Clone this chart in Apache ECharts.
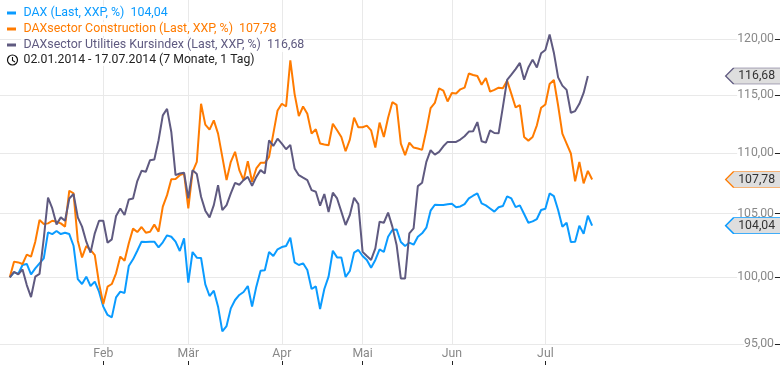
<!DOCTYPE html>
<html><head><meta charset="utf-8">
<style>html,body{margin:0;padding:0;background:#fff}#c{width:780px;height:365px}</style>
<script src="https://cdn.jsdelivr.net/npm/echarts@6/dist/echarts.min.js"></script>
</head><body><div id="c"></div>
<script>
const monthIdx=[22,42,64,83,104,126];
const monthNames=['Feb','Mär','Apr','Mai','Jun','Jul'];
const yTicks=[95,100,105,110,115,120];
const names=['DAX (Last, XXP, %)','DAXsector Construction (Last, XXP, %)','DAXsector Utilities Kursindex (Last, XXP, %)'];
const lastLabels=['104,04','107,78','116,68'];
const dateRange='02.01.2014 - 17.07.2014 (7 Monate, 1 Tag)';
const colors=['#0a9bff','#ff7b00','#5f5a80'];
const dax=[100,100.38,100.28,100.95,101.03,100.23,100.69,101.08,101.47,103.51,103.37,103.61,103.37,103.48,103.37,102.45,99.87,99.49,100.05,99.34,99.67,98.91,97.78,97.16,96.98,98.48,98.91,98.81,100.87,101.39,102.06,102.77,102.74,102.77,102.77,102.32,102.72,103.27,103.16,102.77,102.04,103.03,99.59,101.96,101.52,101.49,99.46,98.58,98.98,97.78,95.95,96.34,97.65,98.28,98.66,98.88,99.34,97.78,99.29,100.51,100.54,101.96,101.65,102.17,102.35,102.43,103.08,101.15,100.95,101.08,100.56,99.11,99.31,97.6,99.11,100.05,102.06,101.54,101.54,100.03,100.49,101.91,102.12,101.65,101.34,100.74,101.34,102.17,101.96,103.16,103.69,103.74,102.74,102.43,102.69,102.53,103.16,103.43,103.88,105.24,105.72,105.69,105.69,105.75,105.8,105.51,105.58,105.77,106.23,106.45,106.64,105.83,105.67,105.42,105.16,105.51,105.61,106.4,106.23,105.53,105.67,104.97,104.27,104.38,104.57,105.29,105.4,106.64,106.42,105.29,103.96,104.27,102.74,102.77,104.04,103.4,104.83,104.04];
const construction=[100,101.21,101.15,101.03,101.75,101.6,102.77,104.49,104.17,104.22,104.43,104.35,104.22,103.96,106.86,106.64,102.85,101.54,102.43,102.12,101.72,99.54,97.98,99.29,99.49,100.31,101.6,101.28,102.64,103.8,103.53,103.93,103.48,103.56,104.12,103.56,105.56,106.5,107.8,107.82,108.14,108.28,105.42,108.42,109.25,114.22,112.41,111.98,112.78,111.64,109.67,107.73,109.25,110.09,108.56,107.73,109.31,107.6,108.7,109.17,109.17,109.67,111.64,113.64,114.22,113.98,118.09,115.09,113.15,113.98,113.35,111.64,112.01,110.79,110.71,110.65,112.49,111.92,111.35,110.14,111.13,113.01,112.18,112.18,112.32,111.92,110.45,112.58,111.35,113.01,114.36,114.13,110.79,109.81,110.87,110.45,110.37,110.26,111.92,113.84,114.3,115.58,115.38,114.42,115.17,115.12,115.49,115.64,116.9,116.76,116.67,115.9,116.49,115.29,115.44,115.64,115.58,116.26,115.09,113.9,114.1,111.35,111.04,111.35,112.35,113.87,114.16,115.96,116.32,114.07,111.64,110.79,109.95,107.63,109.25,107.46,108.5,107.78];
const utilities=[100,100.41,100.23,100.61,99.41,98.5,100.05,100.26,103.03,106.29,105.42,104.14,104.7,104.43,106.23,106.59,104.7,103.96,102.77,101.91,103.43,104.43,104.43,102.69,102.95,104.81,105.42,104.89,106.15,106.23,107.65,108.5,108.42,109.39,109.45,111.07,113.21,113.78,111.78,108.14,108.28,108.34,106.23,108.56,108.23,106.37,105.24,104.7,105.69,107.32,105.29,105.69,106.64,107.51,107.35,107.73,108,107.27,108,108.56,108.28,111.07,110.59,111.21,110.79,110.31,110.68,108.7,108.14,107.93,107.73,106.91,106.78,105.64,106.59,105.13,106.7,106.23,105.16,104.09,104.89,106.29,105.77,101.97,101.65,101.34,102.25,104.35,104.27,105.08,103.96,102.51,99.92,99.92,103.43,103.82,107.24,107.51,109.25,110.23,109.86,110.09,110.56,110.93,110.93,110.93,111.13,111.41,111.81,111.84,112.63,110.99,110.87,111.92,111.69,111.66,113.93,116.32,116.79,117.29,117.85,116.34,117.44,118.15,117.44,118.72,119.02,120.44,118.78,116.55,115.82,115.44,113.44,113.58,114.22,115.17,116.68];
const allSeries=[dax,construction,utilities];
const tagPath='path://M0 8L8 0L56 0L56 16L8 16Z';
const chart=echarts.init(document.getElementById('c'),null,{renderer:'canvas'});
chart.setOption({
  animation:false,
  textStyle:{fontFamily:'Roboto'},
  grid:{left:0,right:0,top:0,bottom:20.7,containLabel:false},
  legend:{show:true,orient:'vertical',left:7,top:6,padding:0,itemGap:2,itemWidth:9,itemHeight:3,icon:'rect',itemStyle:{borderRadius:1},selectedMode:false,z:20,
    data:names.map((n,i)=>({name:n+'  '+lastLabels[i],
      textStyle:{color:colors[i],fontSize:12.4,fontFamily:'Roboto',lineHeight:14,height:14,padding:[0,0,0,2.5],backgroundColor:'rgba(255,255,255,0.8)'}}))},
  xAxis:{type:'value',min:-2.3,max:181.2,offset:20.7,position:'bottom',
    axisLine:{show:false,onZero:false},
    axisTick:{show:true,inside:true,length:4,lineStyle:{color:'#222',width:1},customValues:monthIdx},
    axisLabel:{inside:true,margin:5,fontSize:12.25,color:'#888',customValues:monthIdx,
      formatter:v=>monthNames[monthIdx.indexOf(v)]||'',hideOverlap:false},
    splitLine:{show:true,lineStyle:{color:'#e9e9e9',width:1}}},
  yAxis:{type:'log',logBase:10,min:95,max:123.67,position:'right',
    axisLine:{show:false,onZero:false},
    axisTick:{show:true,inside:true,length:5,lineStyle:{color:'#222',width:1},customValues:yTicks},
    axisLabel:{inside:true,margin:6,fontSize:12.25,color:'#888',backgroundColor:'#fff',customValues:yTicks,
      formatter:v=>Number(v).toFixed(2).replace('.',',')},
    splitLine:{show:true,lineStyle:{color:'#e9e9e9',width:1}}},
  graphic:[
    {type:'circle',shape:{cx:12.5,cy:60,r:5},style:{fill:'none',stroke:'#111',lineWidth:1.2},z:50},
    {type:'polyline',shape:{points:[[12.5,57],[12.5,60.5],[15,62]]},style:{fill:'none',stroke:'#111',lineWidth:1.1},z:50},
    {type:'text',left:23.5,top:54,style:{text:dateRange,fontSize:12.25,fontFamily:'Roboto',fill:'#222',backgroundColor:'rgba(255,255,255,0.8)'},z:50}
  ],
  series:allSeries.map((d,k)=>({
    name:names[k]+'  '+lastLabels[k],type:'line',symbol:'none',smooth:false,clip:false,z:10+k,
    lineStyle:{color:colors[k],width:2},itemStyle:{color:colors[k]},
    data:d.map((v,i)=>[i,v]),
    markPoint:{symbol:tagPath,symbolSize:[56,16],symbolKeepAspect:false,silent:true,
      itemStyle:{color:'#dedede',borderColor:colors[k],borderWidth:1},
      label:{show:true,position:'inside',offset:[3,0],formatter:lastLabels[k],color:'#333',fontSize:12.25,fontFamily:'Roboto'},
      data:[{coord:[175,d[d.length-1]]}]}
  }))
});
</script></body></html>
